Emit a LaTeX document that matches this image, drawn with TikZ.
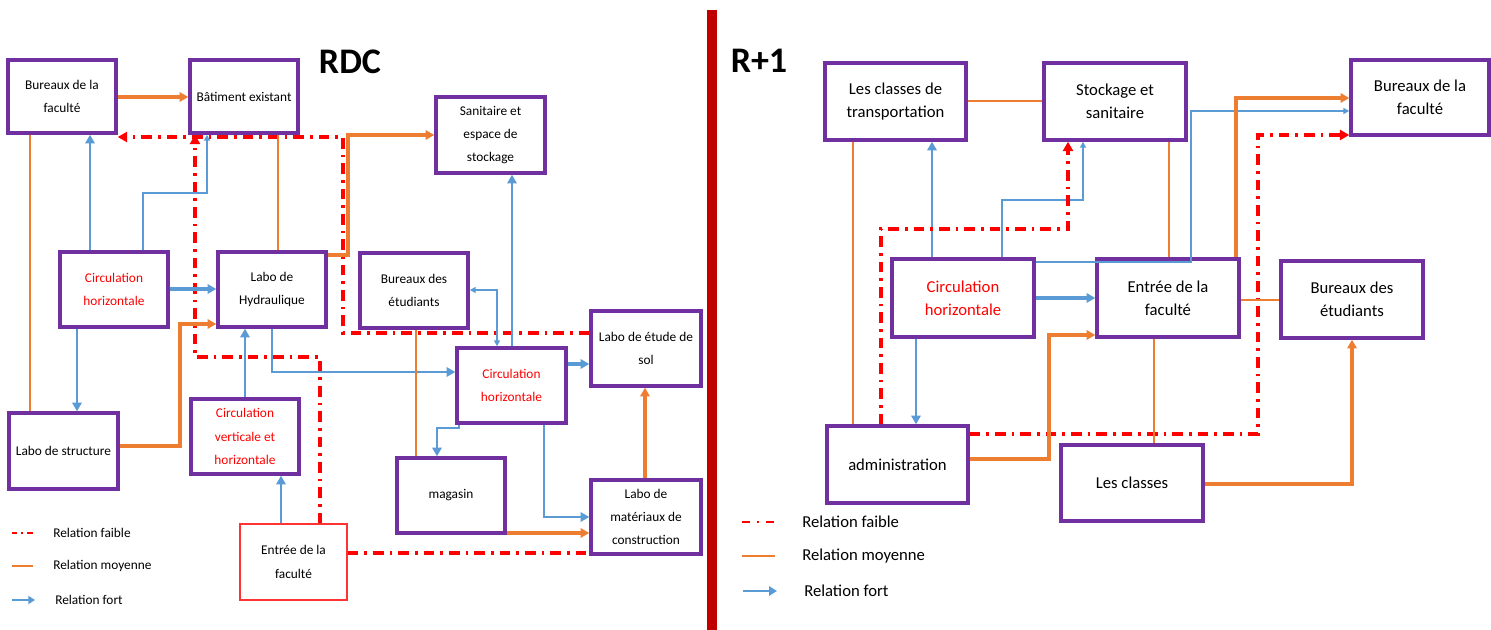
\documentclass[tikz,border=0pt]{standalone}
\usepackage{fontspec}
\setmainfont{Carlito}
\usetikzlibrary{arrows.meta}
\definecolor{pur}{HTML}{7030A0}
\definecolor{org}{HTML}{ED7D31}
\definecolor{blu}{HTML}{5B9BD5}
\definecolor{rd}{HTML}{FF0000}
\definecolor{dred}{HTML}{C00000}
\begin{document}
\begin{tikzpicture}[x=0.75pt,y=-0.75pt,
 box/.style={draw=pur,line width=2.6pt,fill=white,align=center,inner sep=1pt},
 ebox/.style={draw=rd!80,line width=0.8pt,fill=white,align=center,inner sep=1pt},
 L/.style={font=\fontsize{10}{17.5}\selectfont},
 R/.style={font=\fontsize{12.5}{17.5}\selectfont},
 sz/.style 2 args={minimum width=#1*0.75pt,minimum height=#2*0.75pt},
 red text/.style={text=rd},
 bigtip/.style={-{Triangle[length=6.5pt,width=7pt]}},
 smalltip/.style={-{Triangle[length=4.5pt,width=4.5pt]}},
 ofort/.style={draw=org,line width=2.5pt,bigtip},
 omoy/.style={draw=org,line width=1.2pt},
 bthick/.style={draw=blu,line width=2.8pt,bigtip},
 bmed/.style={draw=blu,line width=1.8pt,bigtip},
 bthin/.style={draw=blu,line width=1.2pt,smalltip},
 faible/.style={draw=rd,line width=2.6pt,dash pattern=on 8pt off 4.5pt on 2pt off 4.5pt},
 rtip/.style={-{Triangle[length=7pt,width=7.5pt]}},
 legtxt/.style={anchor=west,inner sep=0pt}
]
\useasboundingbox (0,0) rectangle (1491,630);
\fill[white] (0,0) rectangle (1491,630);
% divider
\fill[dred] (707,10) rectangle (717,630);
% titles
\node[font=\fontsize{27}{30}\selectfont\bfseries] (rdc) at (350,62) {RDC};
\node[font=\fontsize{27}{30}\selectfont\bfseries] (r1) at (759,61) {R+1};

% ===== Left (RDC) nodes =====
\node[box,L,sz={108}{73}] (bfL) at (62,96.5) {Bureaux de la\\faculté};
\node[box,L,sz={108}{73}] (be) at (244,96.5) {Bâtiment existant};
\node[box,L,sz={109}{76}] (san) at (490.5,135) {Sanitaire et\\espace de\\stockage};
\node[box,L,sz={108}{75},red text] (chL) at (114,289.5) {Circulation\\horizontale};
\node[box,L,sz={108}{75}] (hyd) at (272,289.5) {Labo de\\Hydraulique};
\node[box,L,sz={108}{75}] (betL) at (414,290.5) {Bureaux des\\étudiants};
\node[box,L,sz={110}{75}] (sol) at (646,348.5) {Labo de étude de\\sol};
\node[box,L,sz={109}{75},red text] (chM) at (511.5,385.5) {Circulation\\horizontale};
\node[box,L,sz={109}{76}] (struct) at (63.5,451) {Labo de structure};
\node[box,L,sz={108}{75},red text] (cvh) at (245,436.5) {Circulation\\verticale et\\horizontale};
\node[box,L,sz={108}{75}] (mag) at (451,495.5) {magasin};
\node[box,L,sz={110}{74}] (mat) at (646,517) {Labo de\\matériaux de\\construction};
\node[ebox,L,sz={107}{76}] (entL) at (293.5,562) {Entrée de la\\faculté};

% ===== Left connectors =====
\draw[ofort] (bfL.east |- 0,97) -- (be.west |- 0,97);
\draw[faible,rtip] (sol.west |- 0,333) -- (343,333) -- (343,137) -- (bfL.east |- 0,137);
\draw[faible,rtip] (entL.north -| 320,0) -- (320,357) -- (195,357) -- (be.south -| 195,0);
\draw[faible] (entL.east |- 0,553) -- (mat.west |- 0,553);
\draw[omoy] (bfL.south -| 30,0) -- (struct.north -| 30,0);
\draw[bmed] (chL.north -| 90,0) -- (bfL.south -| 90,0);
\draw[bthin] (chL.north -| 143,0) -- (143,193) -- (207,193) -- (be.south -| 207,0);
\draw[omoy] (be.south -| 278,0) -- (hyd.north -| 278,0);
\draw[ofort] (hyd.east |- 0,255) -- (348,255) -- (348,135) -- (san.west |- 0,135);
\draw[bthick] (chL.east |- 0,289) -- (hyd.west |- 0,289);
\draw[ofort] (struct.east |- 0,446) -- (180,446) -- (180,324) -- (hyd.west |- 0,324);
\draw[bmed] (chL.south -| 77,0) -- (struct.north -| 77,0);
\draw[bmed] (cvh.north -| 245,0) -- (hyd.south -| 245,0);
\draw[bmed] (entL.north -| 281,0) -- (cvh.south -| 281,0);
\draw[bmed] (hyd.south -| 272,0) -- (272,372) -- (chM.west |- 0,372);
\draw[bmed] (chM.north -| 512,0) -- (san.south -| 512,0);
\draw[draw=blu,line width=1.2pt,{Triangle[length=4.5pt,width=4.5pt]}-{Triangle[length=4.5pt,width=4.5pt]}] (betL.east |- 0,290) -- (497,290) -- (chM.north -| 497,0);
\draw[omoy] (betL.south -| 416,0) -- (mag.north -| 416,0);
\draw[bthick] (chM.east |- 0,364) -- (sol.west |- 0,364);
\draw[bmed] (chM.south -| 459,0) -- (459,428) -- (437,428) -- (mag.north -| 437,0);
\draw[bmed] (chM.south -| 544,0) -- (544,517) -- (mat.west |- 0,517);
\draw[ofort] (mag.east |- 0,533) -- (mat.west |- 0,533);
\draw[ofort] (mat.north -| 645,0) -- (sol.south -| 645,0);

% ===== Left legend =====
\draw[draw=rd,line width=1.6pt,dash pattern=on 4pt off 3pt on 1.5pt off 3pt] (12,533) -- (34,533);
\node[L,legtxt] (lf1) at (53,533) {Relation faible};
\draw[draw=org,line width=1.6pt] (12,566) -- (33,566);
\node[L,legtxt] (lm1) at (53,566) {Relation moyenne};
\draw[draw=blu,line width=2pt,-{Triangle[length=5pt,width=6pt]}] (12,600) -- (35,600);
\node[L,legtxt] (lt1) at (55,600) {Relation fort};

% ===== Right (R+1) nodes =====
\node[box,R,sz={141}{77}] (lct) at (895.5,101.5) {Les classes de\\transportation};
\node[box,R,sz={142}{77}] (sto) at (1115,101.5) {Stockage et\\sanitaire};
\node[box,R,sz={138}{75}] (bfR) at (1420,97.5) {Bureaux de la\\faculté};
\node[box,R,sz={142}{78},red text] (chR) at (963,298) {Circulation\\horizontale};
\node[box,R,sz={142}{78}] (entR) at (1168,298) {Entrée de la\\faculté};
\node[box,R,sz={142}{77}] (betR) at (1352,299.5) {Bureaux des\\étudiants};
\node[box,R,sz={141}{77}] (adm) at (897.5,464.5) {administration};
\node[box,R,sz={142}{76}] (cls) at (1132,483) {Les classes};

% ===== Right connectors =====
\draw[omoy] (lct.east |- 0,101) -- (sto.west |- 0,101);
\draw[omoy] (lct.south -| 853,0) -- (adm.north -| 853,0);
\draw[bmed] (chR.north -| 932,0) -- (lct.south -| 932,0);
\draw[bthin] (chR.north -| 1002,0) -- (1002,200) -- (1083,200) -- (sto.south -| 1083,0);
\draw[faible,rtip] (adm.north -| 881,0) -- (881,229) -- (1068,229) -- (sto.south -| 1068,0);
\draw[faible,rtip] (adm.east |- 0,434) -- (1258,434) -- (1258,135) -- (bfR.west |- 0,135);
\draw[omoy] (sto.south -| 1169,0) -- (entR.north -| 1169,0);
\draw[bthin] (chR.east |- 0,262) -- (1191,262) -- (1191,111) -- (bfR.west |- 0,111);
\draw[ofort] (entR.north -| 1236,0) -- (1236,98) -- (bfR.west |- 0,98);
\draw[bthick] (chR.east |- 0,298) -- (entR.west |- 0,298);
\draw[ofort] (adm.east |- 0,459) -- (1049,459) -- (1049,335) -- (entR.west |- 0,335);
\draw[bmed] (chR.south -| 916,0) -- (adm.north -| 916,0);
\draw[omoy] (entR.east |- 0,300) -- (betR.west |- 0,300);
\draw[omoy] (entR.south -| 1154,0) -- (cls.north -| 1154,0);
\draw[ofort] (cls.east |- 0,484) -- (1352,484) -- (betR.south -| 1352,0);

% ===== Right legend =====
\draw[draw=rd,line width=1.6pt,dash pattern=on 6pt off 5pt on 2pt off 5pt] (742,522) -- (776,522);
\node[R,legtxt] (lf2) at (802,522) {Relation faible};
\draw[draw=org,line width=1.6pt] (742,556) -- (775,556);
\node[R,legtxt] (lm2) at (802,556) {Relation moyenne};
\draw[draw=blu,line width=2.2pt,-{Triangle[length=6pt,width=7pt]}] (743,591) -- (777,591);
\node[R,legtxt] (lt2) at (804,591) {Relation fort};
\end{tikzpicture}
\end{document}
